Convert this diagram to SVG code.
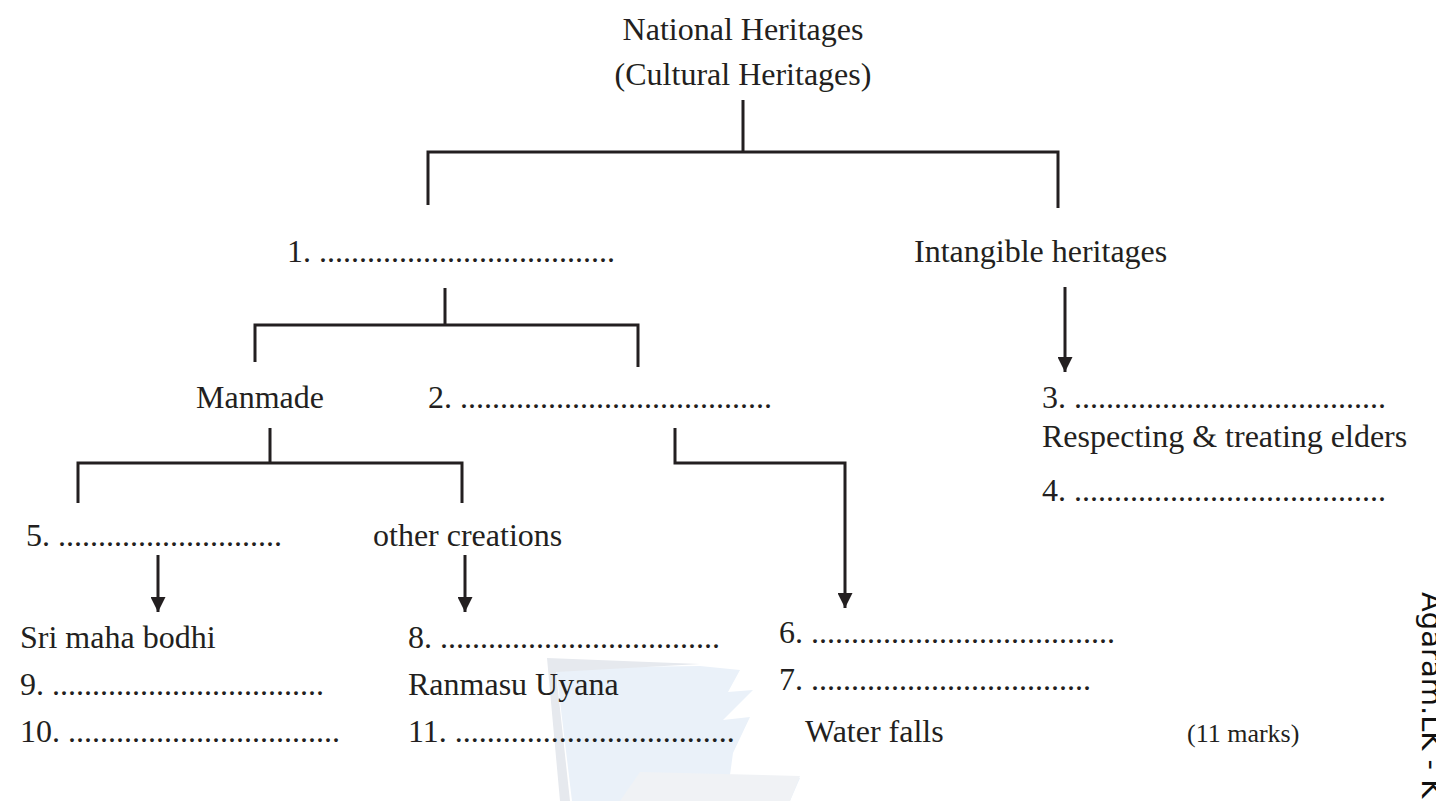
<svg xmlns="http://www.w3.org/2000/svg" width="1436" height="801" viewBox="0 0 1436 801">
<style>
text{font-family:"Liberation Serif","Times New Roman",serif;font-size:32px;fill:#231f20}
.m{font-size:26px}
.c{stroke:#231f20;stroke-width:3;fill:none}
.wm{font-family:"DejaVu Sans",sans-serif;font-size:29px;fill:#111}
</style>
<defs>
<marker id="ah" viewBox="0 0 10 10" refX="10" refY="5" markerWidth="5" markerHeight="5" markerUnits="strokeWidth" orient="auto">
<path d="M0,0 L10,5 L0,10 Z" fill="#231f20"/>
</marker>
</defs>
<rect width="1436" height="801" fill="#fff"/>
<g id="watermark">
<path d="M556,668 L700,666 L740,670 L728,692 L753,690 L723,720 L750,717 L733,753 L730,775 L800,778 L790,801 L572,801 Z" fill="#eaf1f9"/>
<path d="M547,658 L700,664 L556,672 L570,801 L560,801 Z" fill="#e6e9ee"/>
<path d="M640,772 L800,776 L790,801 L620,801 Z" fill="#f0f2f5"/>
<text class="wm" transform="translate(1422,592) rotate(90)">Agaram.LK - K</text>
</g>
<g id="connectors">
<path class="c" d="M743,100 V152 M428,205 V152 H1058 V208"/>
<path class="c" d="M445,288 V325 M255,362 V325 H638 V367"/>
<path class="c" d="M270,428 V463 M78,503 V463 H462 V503"/>
<path class="c" d="M1065,287 V372" marker-end="url(#ah)"/>
<path class="c" d="M675,428 V463 H845 V608" marker-end="url(#ah)"/>
<path class="c" d="M158,555 V612" marker-end="url(#ah)"/>
<path class="c" d="M465,555 V612" marker-end="url(#ah)"/>
</g>
<g id="n-root"><text x="743" y="40" text-anchor="middle">National Heritages</text><text x="743" y="85" text-anchor="middle">(Cultural Heritages)</text></g>
<g id="n1"><text x="287" y="262">1. .....................................</text></g>
<g id="n-intangible"><text x="914" y="262">Intangible heritages</text></g>
<g id="n-manmade"><text x="196" y="408">Manmade</text></g>
<g id="n2"><text x="428" y="408">2. .......................................</text></g>
<g id="n3"><text x="1042" y="408">3. .......................................</text><text x="1042" y="447">Respecting &amp; treating elders</text></g>
<g id="n4"><text x="1042" y="501">4. .......................................</text></g>
<g id="n5"><text x="26" y="546">5. ............................</text></g>
<g id="n-other"><text x="373" y="546">other creations</text></g>
<g id="n-sri"><text x="20" y="648">Sri maha bodhi</text></g>
<g id="n8"><text x="408" y="648">8. ...................................</text></g>
<g id="n6"><text x="779" y="643">6. ......................................</text></g>
<g id="n9"><text x="20" y="695">9. ..................................</text></g>
<g id="n-ranmasu"><text x="408" y="695">Ranmasu Uyana</text></g>
<g id="n7"><text x="779" y="690">7. ...................................</text></g>
<g id="n10"><text x="20" y="742">10. ..................................</text></g>
<g id="n11"><text x="408" y="742">11. ...................................</text></g>
<g id="n-water"><text x="805" y="742">Water falls</text></g>
<g id="marks"><text class="m" x="1187" y="742">(11 marks)</text></g>
</svg>
